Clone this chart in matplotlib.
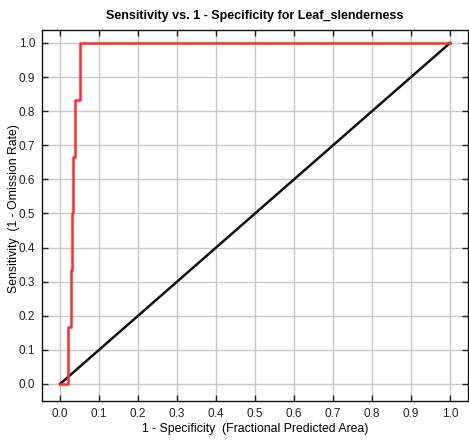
import matplotlib
matplotlib.use("Agg")
import matplotlib.pyplot as plt

# ROC data
fpr = [0.0, 0.021, 0.021, 0.027, 0.027, 0.030, 0.030, 0.032, 0.032, 0.038, 0.038, 0.051, 0.051, 1.0]
tpr = [0.0, 0.0, 0.167, 0.167, 0.333, 0.333, 0.5, 0.5, 0.667, 0.667, 0.833, 0.833, 1.0, 1.0]
diag_x = [0.0, 1.0]
diag_y = [0.0, 1.0]
ticks = [0.0, 0.1, 0.2, 0.3, 0.4, 0.5, 0.6, 0.7, 0.8, 0.9, 1.0]
tick_labels = ["0.0", "0.1", "0.2", "0.3", "0.4", "0.5", "0.6", "0.7", "0.8", "0.9", "1.0"]

plt.rcParams['font.family'] = ['Liberation Sans', 'DejaVu Sans']

fig = plt.figure(figsize=(4.69, 4.45), dpi=100)
ax = fig.add_axes([42/469, 1 - 401/445, (468 - 42)/469, (401 - 30)/445])

ax.plot(diag_x, diag_y, color='#111111', lw=1.8, zorder=3)
ax.plot(fpr, tpr, color='#ff2a2a', lw=1.8, zorder=4)

ax.set_xlim(-0.0462, 1.046)
ax.set_ylim(-0.0499, 1.038)
ax.set_xticks(ticks)
ax.set_xticklabels(tick_labels)
ax.set_yticks(ticks)
ax.set_yticklabels(tick_labels)
ax.grid(True, color='#c8c8c8', lw=1.0)
ax.set_axisbelow(True)
ax.tick_params(direction='in', length=4, width=1, top=True, right=True,
               labelsize=8.5, colors='#222222')
ax.tick_params(axis='y', pad=5)
ax.tick_params(axis='x', pad=5)
for s in ax.spines.values():
    s.set_color('#111111')
    s.set_linewidth(1.0)

ax.set_title("Sensitivity vs. 1 - Specificity for Leaf_slenderness",
             fontsize=9, fontweight='bold', pad=8)
ax.set_xlabel("1 - Specificity  (Fractional Predicted Area)", fontsize=8.8)
ax.set_ylabel("Sensitivity  (1 - Omission Rate)", fontsize=8.8)
ax.yaxis.set_label_coords(-0.052, 0.52)
ax.xaxis.set_label_coords(0.5, -0.058)

fig.savefig("out.png", dpi=100)
